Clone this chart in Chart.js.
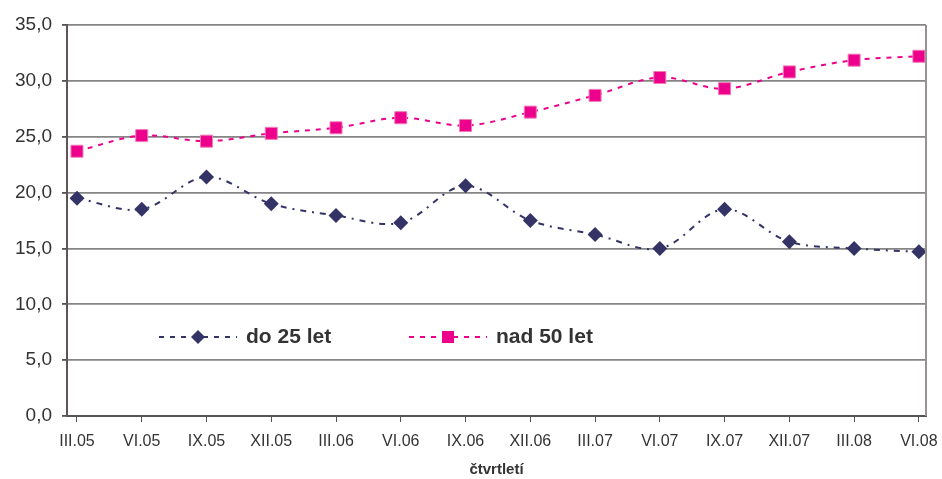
<!DOCTYPE html>
<html>
<head>
<meta charset="utf-8">
<script src="https://cdn.jsdelivr.net/npm/chart.js@4.4.1/dist/chart.umd.min.js"></script>
<style>
  html, body { margin: 0; padding: 0; background: #fff; }
  #wrap { width: 942px; height: 479px; position: relative; }
</style>
</head>
<body>
<div id="wrap"><canvas id="c" width="942" height="479"></canvas></div>
<script>
const categories = ['III.05','VI.05','IX.05','XII.05','III.06','VI.06','IX.06','XII.06','III.07','VI.07','IX.07','XII.07','III.08','VI.08'];
const do25 = [19.5, 18.5, 21.4, 19.0, 17.95, 17.3, 20.6, 17.5, 16.25, 15.0, 18.5, 15.6, 15.0, 14.7];
const nad50 = [23.7, 25.1, 24.6, 25.3, 25.8, 26.7, 26.0, 27.2, 28.7, 30.3, 29.3, 30.8, 31.85, 32.2];
const seriesLabels = ['do 25 let', 'nad 50 let'];
const yMin = 0, yMax = 35, yStep = 5;
const xTitle = 'čtvrtletí';

const navy = '#333366';
const pink = '#EC008C';
const FONT = "'Liberation Sans', Arial, sans-serif";
Chart.defaults.font.family = FONT;
Chart.defaults.color = '#333333';

const toPts = arr => arr.map((v, i) => ({ x: i, y: v }));

const frame = {
  id: 'frame',
  afterDraw(chart) {
    const { ctx, chartArea: a } = chart;
    ctx.save();
    // right border
    ctx.strokeStyle = '#9a9292';
    ctx.lineWidth = 2;
    ctx.beginPath();
    ctx.moveTo(a.right, a.top);
    ctx.lineTo(a.right, a.bottom);
    ctx.stroke();
    // custom legend (line + marker + label)
    const items = [
      { x: 159, ds: chart.data.datasets[0], style: 'diamond' },
      { x: 409, ds: chart.data.datasets[1], style: 'square' }
    ];
    const y = 337;
    items.forEach(it => {
      const ds = it.ds;
      ctx.strokeStyle = ds.borderColor;
      ctx.lineWidth = 2;
      ctx.setLineDash([5, 6]);
      ctx.beginPath();
      ctx.moveTo(it.x, y);
      ctx.lineTo(it.x + 78, y);
      ctx.stroke();
      ctx.setLineDash([]);
      const cx = it.x + 39;
      ctx.fillStyle = ds.pointBackgroundColor;
      ctx.beginPath();
      if (it.style === 'diamond') {
        ctx.moveTo(cx, y - 7); ctx.lineTo(cx + 7, y); ctx.lineTo(cx, y + 7); ctx.lineTo(cx - 7, y);
        ctx.closePath();
      } else {
        ctx.rect(cx - 6, y - 6, 12, 12);
      }
      ctx.fill();
      ctx.fillStyle = '#333333';
      ctx.font = 'bold 21px ' + FONT;
      ctx.textBaseline = 'middle';
      ctx.textAlign = 'left';
      ctx.fillText(ds.label, it.x + 87, y);
    });
    ctx.restore();
  }
};

new Chart(document.getElementById('c'), {
  type: 'line',
  data: {
    datasets: [
      {
        label: seriesLabels[0],
        data: toPts(do25),
        borderColor: navy,
        borderWidth: 2,
        borderDash: [6, 6, 2, 6],
        tension: 0.35,
        pointStyle: 'rectRot',
        pointRadius: 7.5,
        pointHoverRadius: 7.5,
        pointBackgroundColor: navy,
        pointBorderColor: navy,
        pointBorderWidth: 0,
        fill: false
      },
      {
        label: seriesLabels[1],
        data: toPts(nad50),
        borderColor: pink,
        borderWidth: 2,
        borderDash: [5, 6],
        tension: 0.35,
        pointStyle: 'rect',
        pointRadius: 8.5,
        pointHoverRadius: 8.5,
        pointBackgroundColor: pink,
        pointBorderColor: '#f27ab8',
        pointBorderWidth: 1,
        fill: false
      }
    ]
  },
  options: {
    responsive: false,
    animation: false,
    layout: { padding: { left: 0, right: 16, top: 25, bottom: 0 } },
    plugins: {
      legend: { display: false },
      tooltip: { enabled: false },
      title: { display: false }
    },
    scales: {
      x: {
        type: 'linear',
        min: -0.154,
        max: 13.11,
        afterBuildTicks(scale) {
          scale.ticks = categories.map((_, i) => ({ value: i }));
        },
        afterFit(scale) {
          scale.height = 63;
          scale.paddingLeft = 0;
          scale.paddingRight = 0;
        },
        ticks: {
          autoSkip: false,
          maxRotation: 0,
          padding: 10,
          font: { size: 16 },
          color: '#333333',
          callback: v => categories[v] !== undefined ? categories[v] : ''
        },
        grid: {
          drawOnChartArea: false,
          drawTicks: true,
          tickLength: 6,
          color: '#555555',
          lineWidth: 1
        },
        border: { display: true, color: '#555555', width: 2 },
        title: {
          display: true,
          text: xTitle,
          font: { size: 15, weight: 'bold' },
          color: '#333333',
          padding: { top: 4, bottom: 0 }
        }
      },
      y: {
        min: yMin,
        max: yMax,
        afterFit(scale) {
          scale.width = 67;
          scale.paddingTop = 0;
          scale.paddingBottom = 0;
        },
        ticks: {
          stepSize: yStep,
          padding: 10,
          font: { size: 19 },
          color: '#333333',
          callback: v => v.toFixed(1).replace('.', ',')
        },
        grid: {
          color: '#858585',
          lineWidth: 1.8,
          tickLength: 5,
          tickColor: '#555555'
        },
        border: { display: true, color: '#5e5656', width: 2 }
      }
    }
  },
  plugins: [frame]
});
</script>
</body>
</html>
